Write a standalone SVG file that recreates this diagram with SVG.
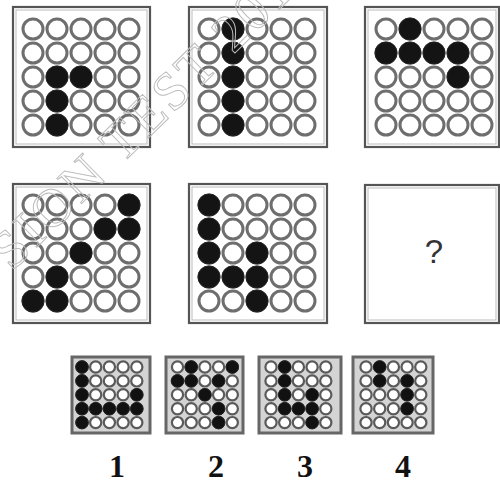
<svg xmlns="http://www.w3.org/2000/svg" xmlns:xlink="http://www.w3.org/1999/xlink" width="500" height="485" viewBox="0 0 500 485">
<style>
.box{fill:#fff;stroke:#555;stroke-width:2.2}
.inner{fill:none;stroke:#bbb;stroke-width:1}
.o{fill:#fff;stroke:#6e6e6e;stroke-width:3}
.f{fill:#141414;stroke:#222;stroke-width:1}
.sbox{fill:#d4d4d4;stroke:#666;stroke-width:3}
.so{fill:#fff;stroke:#5a5a5a;stroke-width:2.2}
.sf{fill:#111;stroke:#222;stroke-width:1}
.lab{font-family:"Liberation Serif",serif;font-weight:bold;font-size:32px;fill:#111;text-anchor:middle}
.q{font-family:"Liberation Sans",sans-serif;font-size:33px;fill:#333;text-anchor:middle}
.wm1{font-family:"Liberation Serif",serif;font-size:54px;fill:none;stroke:#bdbdbd;stroke-width:1;letter-spacing:3px}
</style>
<defs>
<g id="grid">
<circle class="o" cx="0" cy="0" r="10"/><circle class="o" cx="24" cy="0" r="10"/><circle class="o" cx="48" cy="0" r="10"/><circle class="o" cx="72" cy="0" r="10"/><circle class="o" cx="96" cy="0" r="10"/>
<circle class="o" cx="0" cy="24" r="10"/><circle class="o" cx="24" cy="24" r="10"/><circle class="o" cx="48" cy="24" r="10"/><circle class="o" cx="72" cy="24" r="10"/><circle class="o" cx="96" cy="24" r="10"/>
<circle class="o" cx="0" cy="48" r="10"/><circle class="o" cx="24" cy="48" r="10"/><circle class="o" cx="48" cy="48" r="10"/><circle class="o" cx="72" cy="48" r="10"/><circle class="o" cx="96" cy="48" r="10"/>
<circle class="o" cx="0" cy="72" r="10"/><circle class="o" cx="24" cy="72" r="10"/><circle class="o" cx="48" cy="72" r="10"/><circle class="o" cx="72" cy="72" r="10"/><circle class="o" cx="96" cy="72" r="10"/>
<circle class="o" cx="0" cy="96" r="10"/><circle class="o" cx="24" cy="96" r="10"/><circle class="o" cx="48" cy="96" r="10"/><circle class="o" cx="72" cy="96" r="10"/><circle class="o" cx="96" cy="96" r="10"/>
</g>
<g id="sgrid">
<circle class="so" cx="0" cy="0" r="5.6"/><circle class="so" cx="13.7" cy="0" r="5.6"/><circle class="so" cx="27.4" cy="0" r="5.6"/><circle class="so" cx="41.1" cy="0" r="5.6"/><circle class="so" cx="54.8" cy="0" r="5.6"/>
<circle class="so" cx="0" cy="13.9" r="5.6"/><circle class="so" cx="13.7" cy="13.9" r="5.6"/><circle class="so" cx="27.4" cy="13.9" r="5.6"/><circle class="so" cx="41.1" cy="13.9" r="5.6"/><circle class="so" cx="54.8" cy="13.9" r="5.6"/>
<circle class="so" cx="0" cy="27.8" r="5.6"/><circle class="so" cx="13.7" cy="27.8" r="5.6"/><circle class="so" cx="27.4" cy="27.8" r="5.6"/><circle class="so" cx="41.1" cy="27.8" r="5.6"/><circle class="so" cx="54.8" cy="27.8" r="5.6"/>
<circle class="so" cx="0" cy="41.7" r="5.6"/><circle class="so" cx="13.7" cy="41.7" r="5.6"/><circle class="so" cx="27.4" cy="41.7" r="5.6"/><circle class="so" cx="41.1" cy="41.7" r="5.6"/><circle class="so" cx="54.8" cy="41.7" r="5.6"/>
<circle class="so" cx="0" cy="55.6" r="5.6"/><circle class="so" cx="13.7" cy="55.6" r="5.6"/><circle class="so" cx="27.4" cy="55.6" r="5.6"/><circle class="so" cx="41.1" cy="55.6" r="5.6"/><circle class="so" cx="54.8" cy="55.6" r="5.6"/>
</g>
</defs>
<rect width="500" height="485" fill="#fff"/>

<g id="panel1">
<rect class="box" x="13" y="7" width="137" height="140"/><rect class="inner" x="16" y="10" width="131" height="134"/>
<use xlink:href="#grid" x="33" y="29"/>
<circle class="f" cx="57" cy="77" r="11"/><circle class="f" cx="81" cy="77" r="11"/><circle class="f" cx="57" cy="101" r="11"/><circle class="f" cx="57" cy="125" r="11"/>
</g>
<g id="panel2">
<rect class="box" x="189" y="7" width="138" height="140"/><rect class="inner" x="192" y="10" width="132" height="134"/>
<use xlink:href="#grid" x="209" y="29"/>
<circle class="f" cx="233" cy="29" r="11"/><circle class="f" cx="233" cy="53" r="11"/><circle class="f" cx="233" cy="77" r="11"/><circle class="f" cx="233" cy="101" r="11"/><circle class="f" cx="233" cy="125" r="11"/>
</g>
<g id="panel3">
<rect class="box" x="365" y="7" width="134" height="140"/><rect class="inner" x="368" y="10" width="128" height="134"/>
<use xlink:href="#grid" x="386" y="29"/>
<circle class="f" cx="410" cy="29" r="11"/><circle class="f" cx="386" cy="53" r="11"/><circle class="f" cx="410" cy="53" r="11"/><circle class="f" cx="434" cy="53" r="11"/><circle class="f" cx="458" cy="53" r="11"/><circle class="f" cx="458" cy="77" r="11"/>
</g>
<g id="panel4">
<rect class="box" x="13" y="184" width="137" height="139"/><rect class="inner" x="16" y="187" width="131" height="133"/>
<use xlink:href="#grid" x="33" y="205"/>
<circle class="f" cx="129" cy="205" r="11"/><circle class="f" cx="105" cy="229" r="11"/><circle class="f" cx="129" cy="229" r="11"/><circle class="f" cx="81" cy="253" r="11"/><circle class="f" cx="57" cy="277" r="11"/><circle class="f" cx="33" cy="301" r="11"/><circle class="f" cx="57" cy="301" r="11"/>
</g>
<g id="panel5">
<rect class="box" x="189" y="184" width="138" height="139"/><rect class="inner" x="192" y="187" width="132" height="133"/>
<use xlink:href="#grid" x="209" y="205"/>
<circle class="f" cx="209" cy="205" r="11"/><circle class="f" cx="209" cy="229" r="11"/><circle class="f" cx="209" cy="253" r="11"/><circle class="f" cx="257" cy="253" r="11"/><circle class="f" cx="209" cy="277" r="11"/><circle class="f" cx="233" cy="277" r="11"/><circle class="f" cx="257" cy="277" r="11"/><circle class="f" cx="257" cy="301" r="11"/>
</g>
<g id="panel6">
<rect class="box" x="365" y="185" width="134" height="138"/><rect class="inner" x="368" y="188" width="128" height="132"/>
<text class="q" x="434" y="263">?</text>
</g>

<g id="option1">
<rect class="sbox" x="72" y="357" width="78" height="76"/>
<use xlink:href="#sgrid" x="82" y="367"/>
<circle class="sf" cx="82" cy="367" r="6.3"/><circle class="sf" cx="82" cy="380.9" r="6.3"/><circle class="sf" cx="82" cy="394.8" r="6.3"/><circle class="sf" cx="136.8" cy="394.8" r="6.3"/>
<circle class="sf" cx="82" cy="408.7" r="6.3"/><circle class="sf" cx="95.7" cy="408.7" r="6.3"/><circle class="sf" cx="109.4" cy="408.7" r="6.3"/><circle class="sf" cx="123.1" cy="408.7" r="6.3"/><circle class="sf" cx="136.8" cy="408.7" r="6.3"/>
<circle class="sf" cx="82" cy="422.6" r="6.3"/>
<text class="lab" x="117" y="477">1</text>
</g>
<g id="option2">
<rect class="sbox" x="166" y="357" width="77" height="76"/>
<use xlink:href="#sgrid" x="177.5" y="367"/>
<circle class="sf" cx="191.2" cy="367" r="6.3"/><circle class="sf" cx="232.3" cy="367" r="6.3"/>
<circle class="sf" cx="177.5" cy="380.9" r="6.3"/><circle class="sf" cx="191.2" cy="380.9" r="6.3"/><circle class="sf" cx="218.6" cy="380.9" r="6.3"/>
<circle class="sf" cx="204.9" cy="394.8" r="6.3"/><circle class="sf" cx="218.6" cy="408.7" r="6.3"/><circle class="sf" cx="218.6" cy="422.6" r="6.3"/>
<text class="lab" x="216" y="477">2</text>
</g>
<g id="option3">
<rect class="sbox" x="259" y="357" width="82" height="76"/>
<use xlink:href="#sgrid" x="271" y="367"/>
<circle class="sf" cx="284.7" cy="367" r="6.3"/><circle class="sf" cx="284.7" cy="380.9" r="6.3"/><circle class="sf" cx="284.7" cy="394.8" r="6.3"/><circle class="sf" cx="312.1" cy="394.8" r="6.3"/>
<circle class="sf" cx="284.7" cy="408.7" r="6.3"/><circle class="sf" cx="298.4" cy="408.7" r="6.3"/><circle class="sf" cx="312.1" cy="408.7" r="6.3"/><circle class="sf" cx="312.1" cy="422.6" r="6.3"/>
<text class="lab" x="305" y="477">3</text>
</g>
<g id="option4">
<rect class="sbox" x="353" y="357" width="80" height="76"/>
<use xlink:href="#sgrid" x="366" y="367"/>
<circle class="sf" cx="379.7" cy="367" r="6.3"/><circle class="sf" cx="379.7" cy="380.9" r="6.3"/><circle class="sf" cx="407.1" cy="380.9" r="6.3"/><circle class="sf" cx="407.1" cy="394.8" r="6.3"/><circle class="sf" cx="407.1" cy="408.7" r="6.3"/>
<text class="lab" x="403" y="477">4</text>
</g>

<g id="watermark">
<text class="wm1" transform="translate(12,272) rotate(-44.5)">SION TEST 201</text>
</g>
</svg>
